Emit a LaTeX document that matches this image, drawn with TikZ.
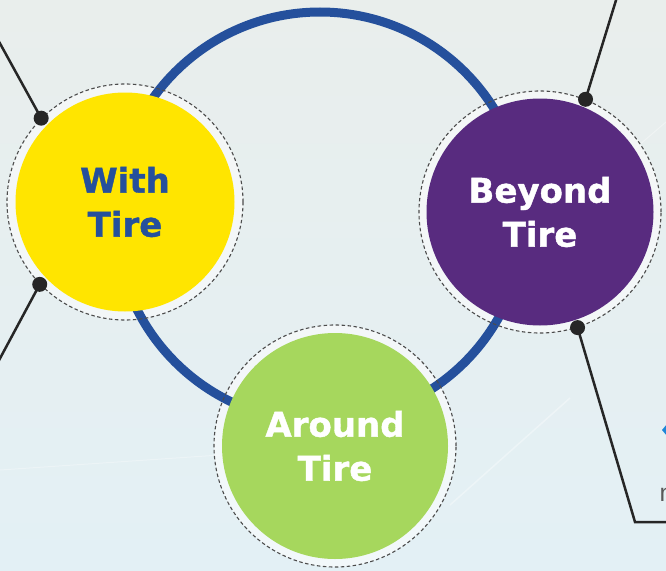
\documentclass[tikz,border=0pt]{standalone}
\usepackage{fontspec}
\newfontfamily\tirefont{DejaVu Sans}[BoldFeatures={FakeBold=1.2}]
\usetikzlibrary{positioning,calc}

\definecolor{bgtop}{HTML}{E9EEEC}
\definecolor{bgbottom}{HTML}{E3F0F5}
\definecolor{ringblue}{HTML}{25509C}
\definecolor{tireyellow}{HTML}{FFE500}
\definecolor{tirepurple}{HTML}{582B7F}
\definecolor{tiregreen}{HTML}{A6D75D}
\definecolor{logoblue}{HTML}{1E86D8}

\tikzset{
    orbit/.style={line width=9pt, ringblue},
    halo/.style={circle, fill=white, fill opacity=0.55, inner sep=0},
    dashring/.style={circle, draw=black!70, dash pattern=on 3.5pt off 2.5pt, line width=1.1pt, inner sep=0},
    disk/.style={circle, inner sep=0, align=center, text=white,
                 font=\tirefont\bfseries\fontsize{34}{44}\selectfont},
    dot/.style={circle, fill=black!85, inner sep=0, minimum size=15pt},
    lead/.style={line width=2.5pt, black!85}
}

\begin{document}
\begin{tikzpicture}[x=1pt, y=-1pt]
    \useasboundingbox (0,0) rectangle (666,570);
    \clip (0,0) rectangle (666,570);

    % backdrop
    \shade[top color=bgtop, bottom color=bgbottom] (0,0) rectangle (666,570);
    \draw[white, line width=1.5pt, opacity=0.35] (450,505) -- (570,398);
    \draw[white, line width=1pt, opacity=0.35] (610,170) -- (680,110);
    \draw[white, line width=1pt, opacity=0.3] (0,470) -- (220,455);

    % pale rims round the circles
    \node[halo, minimum size=236pt] (with) at (125,202) {};
    \node[halo, minimum size=242pt] (beyond) at (540,212) {};
    \node[halo, minimum size=242pt] (around) at (335,446) {};

    % the big ring behind the three circles
    \draw[orbit] (320,217) circle[radius=205];

    % dashed outer rings
    \node[dashring, minimum size=236pt] (withring) at (with) {};
    \node[dashring, minimum size=242pt] (beyondring) at (beyond) {};
    \node[dashring, minimum size=242pt] (aroundring) at (around) {};

    % coloured disks with their labels
    \node[disk, fill=tireyellow, text=ringblue, minimum size=219pt] (withdisk) at (with) {With\\Tire};
    \node[disk, fill=tirepurple, minimum size=227pt] (beyonddisk) at (beyond) {Beyond\\Tire};
    \node[disk, fill=tiregreen, minimum size=226pt] (arounddisk) at (around) {Around\\Tire};

    % leader lines to the dots
    \coordinate (withtopend) at (-3,38);
    \coordinate (withlowend) at (-3,364);
    \coordinate (beyondtopend) at (617,-3);
    \coordinate (beyondbend) at (635,522);
    \coordinate (beyondlowend) at (672,522);

    \node[dot] (withtop) at (withring.135) {};
    \node[dot] (withlow) at (withring.224) {};
    \node[dot] (beyondtop) at (beyondring.68) {};
    \node[dot] (beyondlow) at (beyondring.-72) {};

    \draw[lead] (withtopend) -- (withtop.center);
    \draw[lead] (withlowend) -- (withlow.center);
    \draw[lead] (beyondtopend) -- (beyondtop.center);
    \draw[lead] (beyondlow.center) -- (beyondbend) -- (beyondlowend);

    % bits at the right edge
    \fill[logoblue] (662,430) -- (667,424) -- (672,430) -- (667,436) -- cycle;
    \node[anchor=base west, inner sep=0, text=black!65,
          font=\fontspec{Liberation Sans}\fontsize{25}{25}\selectfont] (edgeword) at (659.5,501) {n};
\end{tikzpicture}
\end{document}
